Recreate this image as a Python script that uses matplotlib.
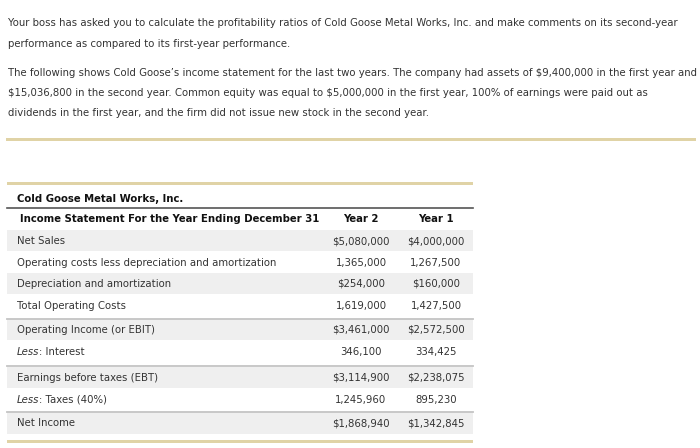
import matplotlib
matplotlib.use("Agg")
import matplotlib.pyplot as plt

plt.rcParams["text.parse_math"] = False

# intro paragraphs
para1 = [
    "Your boss has asked you to calculate the profitability ratios of Cold Goose Metal Works, Inc. and make comments on its second-year",
    "performance as compared to its first-year performance.",
]
para2 = [
    "The following shows Cold Goose\u2019s income statement for the last two years. The company had assets of $9,400,000 in the first year and",
    "$15,036,800 in the second year. Common equity was equal to $5,000,000 in the first year, 100% of earnings were paid out as",
    "dividends in the first year, and the firm did not issue new stock in the second year.",
]

# table
company = "Cold Goose Metal Works, Inc."
header = "Income Statement For the Year Ending December 31"
columns = ["Year 2", "Year 1"]
italic_prefix = ["", "", "", "", "", "Less", "", "Less", ""]
row_labels = ["Net Sales",
              "Operating costs less depreciation and amortization",
              "Depreciation and amortization",
              "Total Operating Costs",
              "Operating Income (or EBIT)",
              ": Interest",
              "Earnings before taxes (EBT)",
              ": Taxes (40%)",
              "Net Income"]
year2 = ["$5,080,000", "1,365,000", "$254,000", "1,619,000", "$3,461,000",
         "346,100", "$3,114,900", "1,245,960", "$1,868,940"]
year1 = ["$4,000,000", "1,267,500", "$160,000", "1,427,500", "$2,572,500",
         "334,425", "$2,238,075", "895,230", "$1,342,845"]

text_col = "#333333"
tan = "#e0d3a6"
fs = 7.25

fig = plt.figure(figsize=(7, 4.48), dpi=100)
ax = fig.add_axes([0, 0, 1, 1])
ax.set_xlim(0, 700)
ax.set_ylim(448, 0)
ax.axis("off")

y = 23
for line in para1:
    ax.text(8, y, line, fontsize=fs, color=text_col, va="center")
    y += 21
y = 73
for line in para2:
    ax.text(8, y, line, fontsize=fs, color=text_col, va="center")
    y += 20

# tan rules
ax.fill_between([6, 696], 138, 141.5, color=tan, lw=0)
ax.fill_between([7, 473], 182, 185.5, color=tan, lw=0)
ax.fill_between([7, 473], 440, 443.5, color=tan, lw=0)

ax.text(17, 199, company, fontsize=fs, fontweight="bold", color="#111111", va="center")
ax.plot([7, 473], [208.5, 208.5], color="#555555", lw=1.2)

ax.text(20, 219, header, fontsize=fs, fontweight="bold", color="#111111", va="center")
col_x = [361, 436]
for cx, c in zip(col_x, columns):
    ax.text(cx, 219, c, fontsize=fs, fontweight="bold", color="#111111", va="center", ha="center")

row_y = [241, 263, 284, 306, 330, 352, 378, 400, 423]
row_h = [21, 21, 21, 23, 21, 23, 21, 22, 22]
sep_y = [319, 366.5, 412.5]

fig.canvas.draw()
for i, (ry, h) in enumerate(zip(row_y, row_h)):
    if i % 2 == 0:
        ax.fill_between([7, 473], ry - 10.5, ry - 10.5 + h, color="#efefef", lw=0, zorder=0)
    if italic_prefix[i]:
        t = ax.text(17, ry, italic_prefix[i], fontsize=fs, style="italic", color=text_col, va="center")
        ax.annotate(row_labels[i], xy=(1, 0.5), xycoords=t, fontsize=fs, color=text_col,
                    va="center", ha="left")
    else:
        ax.text(17, ry, row_labels[i], fontsize=fs, color=text_col, va="center")
    ax.text(col_x[0], ry, year2[i], fontsize=fs, color=text_col, va="center", ha="center")
    ax.text(col_x[1], ry, year1[i], fontsize=fs, color=text_col, va="center", ha="center")

for sy in sep_y:
    ax.plot([7, 473], [sy, sy], color="#c4c4c4", lw=1.3, zorder=1)

fig.savefig("out.png", dpi=100)
